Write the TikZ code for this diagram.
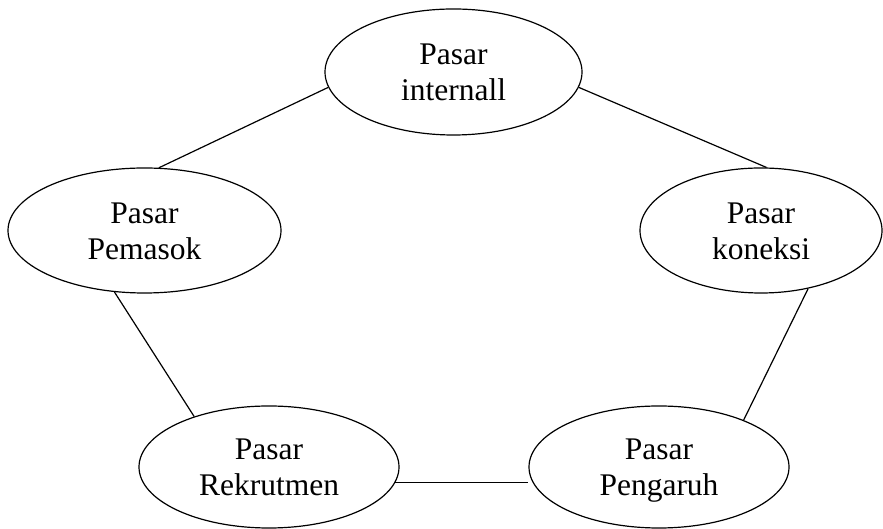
\documentclass[tikz,border=0pt]{standalone}
\usepackage{fontspec}
\setmainfont{Liberation Serif}
\usetikzlibrary{shapes.geometric}
\newcommand{\twolines}[2]{\rule{0pt}{29pt}#1\\#2\rule[-7pt]{0pt}{7pt}}
\begin{document}
\begin{tikzpicture}[x=1pt,y=1pt,
  market/.style={ellipse,draw,line width=1.2pt,inner sep=0pt,align=center,
    font=\fontsize{31.5}{36}\selectfont},
  link/.style={line width=1.2pt}]
\useasboundingbox (0,0) rectangle (883,529);
\node[market,minimum width=257,minimum height=126] (top) at (453.5,457) {\twolines{Pasar}{internall}};
\node[market,minimum width=273,minimum height=125] (left) at (144.5,298.5) {\twolines{Pasar}{Pemasok}};
\node[market,minimum width=242,minimum height=125] (right) at (761,298.5) {\twolines{Pasar}{koneksi}};
\node[market,minimum width=260,minimum height=122] (bl) at (269,62) {\twolines{Pasar}{Rekrutmen}};
\node[market,minimum width=260,minimum height=122] (br) at (659,62) {\twolines{Pasar}{Pengaruh}};
\draw[link] (top.187) -- (left.77);
\draw[link] (top.353) -- (right.85.5);
\draw[link] (left.244.7) -- (bl.146);
\draw[link] (right.309.2) -- (br.29.6);
\draw[link] (bl.353.9) -- (bl.353.9 -| br.west);
\end{tikzpicture}
\end{document}
